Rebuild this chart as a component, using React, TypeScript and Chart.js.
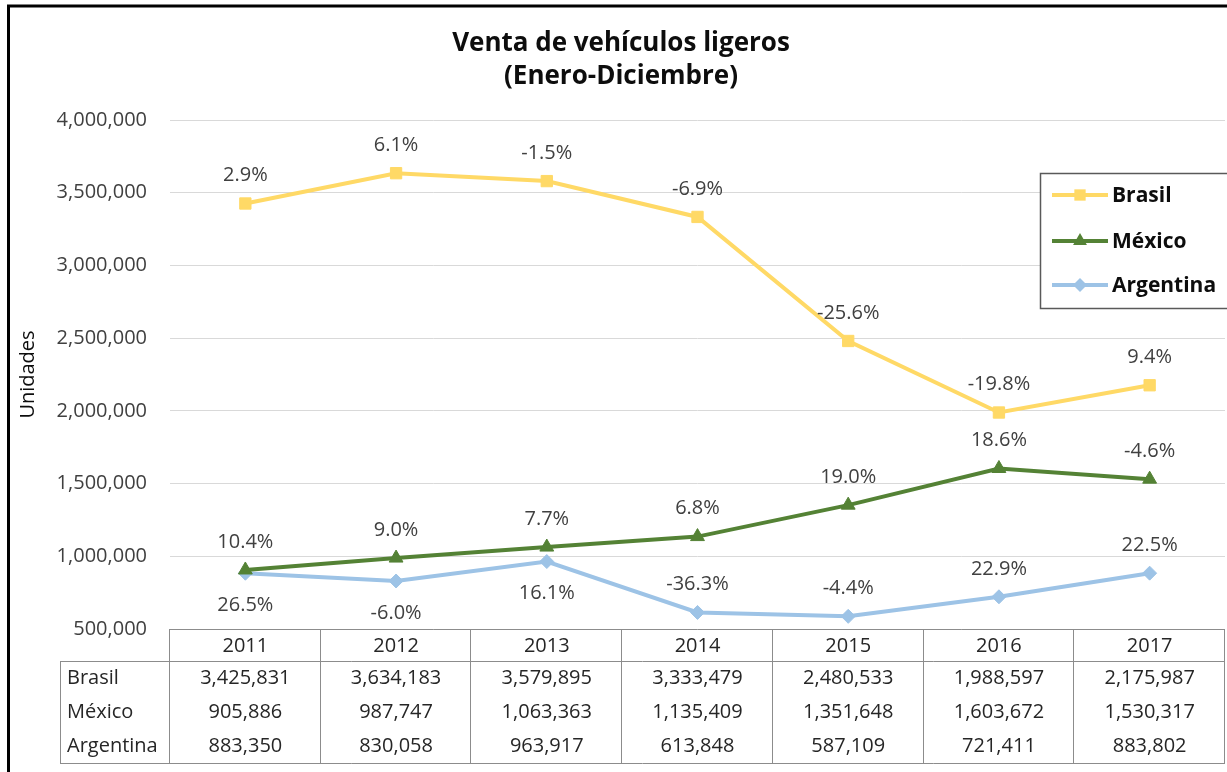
import React, { useEffect, useRef } from 'react';
import { Chart, registerables } from 'chart.js';

Chart.register(...registerables);

const chartTitle = ['Venta de vehículos ligeros', '(Enero-Diciembre)'];
const yAxisTitle = 'Unidades';
const years = ['2011', '2012', '2013', '2014', '2015', '2016', '2017'];
const seriesNames = ['Brasil', 'México', 'Argentina'];
const brasil = [3425831, 3634183, 3579895, 3333479, 2480533, 1988597, 2175987];
const mexico = [905886, 987747, 1063363, 1135409, 1351648, 1603672, 1530317];
const argentina = [883350, 830058, 963917, 613848, 587109, 721411, 883802];
const brasilPct = ['2.9%', '6.1%', '-1.5%', '-6.9%', '-25.6%', '-19.8%', '9.4%'];
const mexicoPct = ['10.4%', '9.0%', '7.7%', '6.8%', '19.0%', '18.6%', '-4.6%'];
const argentinaPct = ['26.5%', '-6.0%', '16.1%', '-36.3%', '-4.4%', '22.9%', '22.5%'];
const yMin = 500000;
const yMax = 4000000;
const yStep = 500000;

// label placement per series (style, not data)
const labelPlacement = [
  ['above', 'above', 'above', 'above', 'above', 'above', 'above'],
  ['above', 'above', 'above', 'above', 'above', 'above', 'above'],
  ['below', 'below', 'below', 'above', 'above', 'above', 'above'],
];

const FONT = '"Open Sans", "Noto Sans", sans-serif';
const colors = ['#FFD966', '#548235', '#9DC3E6'];
const fmt = (v: number) => v.toLocaleString('en-US');

function drawMarker(ctx: CanvasRenderingContext2D, style: string, r: number, x: number, y: number) {
  ctx.beginPath();
  if (style === 'rect') {
    const s = r * Math.SQRT1_2 * 2;
    ctx.rect(x - s / 2, y - s / 2, s, s);
  } else if (style === 'triangle') {
    ctx.moveTo(x, y - r);
    ctx.lineTo(x + r * 0.866, y + r * 0.5);
    ctx.lineTo(x - r * 0.866, y + r * 0.5);
    ctx.closePath();
  } else {
    ctx.moveTo(x, y - r);
    ctx.lineTo(x + r, y);
    ctx.lineTo(x, y + r);
    ctx.lineTo(x - r, y);
    ctx.closePath();
  }
  ctx.fill();
}

const overlayPlugin = {
  id: 'overlay',
  afterDraw(chart: any) {
    const ctx = chart.ctx as CanvasRenderingContext2D;
    const area = chart.chartArea;
    const xScale = chart.scales.x;
    ctx.save();

    // title
    ctx.fillStyle = '#0d0d0d';
    ctx.font = `bold 26px ${FONT}`;
    ctx.textAlign = 'center';
    ctx.textBaseline = 'middle';
    ctx.fillText(chartTitle[0], 621, 44);
    ctx.fillText(chartTitle[1], 621, 77);

    // data labels
    const pcts = [brasilPct, mexicoPct, argentinaPct];
    ctx.font = `20px ${FONT}`;
    ctx.fillStyle = '#404040';
    pcts.forEach((arr, di) => {
      const meta = chart.getDatasetMeta(di);
      meta.data.forEach((pt: any, i: number) => {
        const above = labelPlacement[di][i] === 'above';
        ctx.fillText(arr[i], pt.x, pt.y + (above ? -28 : 32));
      });
    });

    // data table
    const tableLeft = 60;
    const headerTop = area.bottom;
    const headerBottom = area.bottom + 32;
    const rowH = 34;
    const tableBottom = headerBottom + rowH * 3;
    const step = xScale.getPixelForValue(1) - xScale.getPixelForValue(0);
    ctx.strokeStyle = '#8c8c8c';
    ctx.lineWidth = 1;
    ctx.beginPath();
    ctx.moveTo(area.left, headerTop + 0.5);
    ctx.lineTo(area.right, headerTop + 0.5);
    ctx.moveTo(tableLeft, headerBottom + 0.5);
    ctx.lineTo(area.right, headerBottom + 0.5);
    ctx.moveTo(tableLeft, tableBottom + 0.5);
    ctx.lineTo(area.right, tableBottom + 0.5);
    ctx.moveTo(tableLeft + 0.5, headerBottom);
    ctx.lineTo(tableLeft + 0.5, tableBottom);
    for (let i = 0; i <= years.length; i++) {
      const x = Math.round(area.left + step * i) - 0.5;
      ctx.moveTo(x, headerTop);
      ctx.lineTo(x, tableBottom);
    }
    ctx.stroke();

    ctx.fillStyle = '#262626';
    ctx.font = `20px ${FONT}`;
    ctx.textAlign = 'center';
    years.forEach((y, i) => {
      ctx.fillText(y, xScale.getPixelForValue(i), (headerTop + headerBottom) / 2 + 1);
    });
    const rows = [brasil, mexico, argentina];
    rows.forEach((arr, r) => {
      const cy = headerBottom + rowH * r + rowH / 2;
      ctx.textAlign = 'left';
      ctx.fillText(seriesNames[r], tableLeft + 7, cy);
      ctx.textAlign = 'center';
      arr.forEach((v, i) => ctx.fillText(fmt(v), xScale.getPixelForValue(i), cy));
    });

    // legend box
    const lx = 1040, ly = 173, lw = 200, lh = 135;
    ctx.fillStyle = '#ffffff';
    ctx.fillRect(lx, ly, lw, lh);
    ctx.strokeStyle = '#595959';
    ctx.lineWidth = 1.5;
    ctx.strokeRect(lx + 0.5, ly + 0.5, lw, lh);
    const ys = [195, 241, 285];
    seriesNames.forEach((name, i) => {
      const ds = chart.data.datasets[i];
      const y = ys[i];
      ctx.strokeStyle = colors[i];
      ctx.lineWidth = 4;
      ctx.beginPath();
      ctx.moveTo(1052, y);
      ctx.lineTo(1108, y);
      ctx.stroke();
      ctx.fillStyle = colors[i];
      drawMarker(ctx, ds.pointStyle, ds.pointRadius, 1080, y);
      ctx.fillStyle = '#0d0d0d';
      ctx.font = `bold 21px ${FONT}`;
      ctx.textAlign = 'left';
      ctx.fillText(name, 1112, y + 1);
    });

    // outer frame
    ctx.strokeStyle = '#000000';
    ctx.lineWidth = 3;
    ctx.beginPath();
    ctx.moveTo(8.5, 772);
    ctx.lineTo(8.5, 6);
    ctx.lineTo(1227, 6);
    ctx.stroke();
    ctx.restore();
  },
};

export default function App() {
  const ref = useRef<HTMLCanvasElement>(null);
  useEffect(() => {
    const prevMargin = document.body.style.margin;
    document.body.style.margin = '0';
    const chart = new Chart(ref.current!, {
      type: 'line',
      data: {
        labels: years,
        datasets: [
          { label: seriesNames[0], data: brasil, borderColor: colors[0], backgroundColor: colors[0], borderWidth: 4, pointStyle: 'rect', pointRadius: 8, pointBorderWidth: 1 },
          { label: seriesNames[1], data: mexico, borderColor: colors[1], backgroundColor: colors[1], borderWidth: 4, pointStyle: 'triangle', pointRadius: 8, pointBorderWidth: 1 },
          { label: seriesNames[2], data: argentina, borderColor: colors[2], backgroundColor: colors[2], borderWidth: 4, pointStyle: 'rectRot', pointRadius: 7, pointBorderWidth: 1 },
        ],
      },
      options: {
        animation: false,
        responsive: false,
        layout: { autoPadding: false, padding: { left: 8, right: 2, top: 120, bottom: 143 } },
        plugins: {
          legend: { display: false },
          title: { display: false },
          tooltip: { enabled: false },
        },
        scales: {
          x: { type: 'category', offset: true, display: false },
          y: {
            min: yMin,
            max: yMax,
            afterFit: (s: any) => { s.width = 162; },
            border: { display: false },
            grid: { color: '#d9d9d9', drawTicks: false, lineWidth: 1 },
            ticks: {
              stepSize: yStep,
              padding: 23,
              color: '#404040',
              font: { family: FONT, size: 20 },
              callback: (v: any) => fmt(Number(v)),
            },
            title: {
              display: true,
              text: yAxisTitle,
              color: '#0d0d0d',
              font: { family: FONT, size: 20 },
              padding: { top: 8, bottom: 0 },
            },
          },
        },
      },
      plugins: [overlayPlugin],
    });
    return () => {
      chart.destroy();
      document.body.style.margin = prevMargin;
    };
  }, []);
  return (
    <div style={{ position: 'absolute', left: 0, top: 0, width: 1227, height: 772, background: '#fff' }}>
      <canvas ref={ref} width={1227} height={772} style={{ display: 'block', width: 1227, height: 772 }} />
    </div>
  );
}
